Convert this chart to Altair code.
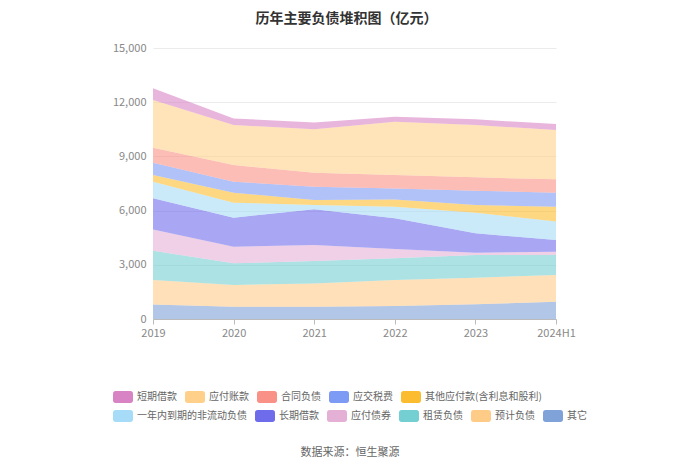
import altair as alt
import pandas as pd

years = ["2019", "2020", "2021", "2022", "2023", "2024H1"]
series = ["短期借款", "应付账款", "合同负债", "应交税费", "其他应付款(含利息和股利)",
          "一年内到期的非流动负债", "长期借款", "应付债券", "租赁负债", "预计负债", "其它"]
colors = ["#d883c4", "#ffd08a", "#fa9186", "#7d9af5", "#fbbd2f",
          "#a6dcf7", "#6f6cec", "#e4b0d6", "#74cfd2", "#ffcc88", "#7fa2d8"]

# values in 亿元, one list per series
short_loans = [650, 360, 370, 280, 310, 330]
accounts_payable = [2640, 2220, 2400, 2950, 2900, 2730]
contract_liab = [830, 920, 780, 740, 740, 740]
taxes_payable = [680, 610, 730, 610, 790, 770]
other_payables = [370, 550, 280, 400, 430, 830]
current_noncurrent = [920, 830, 240, 650, 1140, 1020]
long_loans = [1720, 1610, 1970, 1700, 1070, 650]
bonds_payable = [1180, 920, 890, 510, 130, 180]
lease_liab = [1620, 1200, 1240, 1200, 1250, 1110]
provisions = [1360, 1200, 1290, 1440, 1480, 1470]
others = [800, 680, 680, 720, 810, 960]

values = [short_loans, accounts_payable, contract_liab, taxes_payable, other_payables,
          current_noncurrent, long_loans, bonds_payable, lease_liab, provisions, others]

# build stacked table (bottom series = last in list)
rows = []
for yi, yr in enumerate(years):
    base = 0
    for si in range(len(series) - 1, -1, -1):
        v = values[si][yi]
        rows.append({"year": yr, "series": series[si], "value": v,
                     "base": base, "top": base + v, "order": si})
        base += v
df = pd.DataFrame(rows)

FONT = "Noto Sans CJK SC"
rounded = ("M-0.75,-0.6 H0.75 A0.25,0.25 0 0 1 1,-0.35 V0.35 A0.25,0.25 0 0 1 0.75,0.6 "
           "H-0.75 A0.25,0.25 0 0 1 -1,0.35 V-0.35 A0.25,0.25 0 0 1 -0.75,-0.6 Z")

x_enc = alt.X("year:O", sort=years, scale=alt.Scale(type="point", padding=0),
              axis=alt.Axis(title=None, labelAngle=0, labelColor="#888", labelFontSize=11,
                            labelFont=FONT, domainColor="#bbb", tickColor="#bbb",
                            tickSize=5, labelPadding=3, grid=False))
y_enc = alt.Y("base:Q", scale=alt.Scale(domain=[0, 15000]),
              axis=alt.Axis(title=None, values=[0, 3000, 6000, 9000, 12000, 15000],
                            labelExpr="format(datum.value, ',')",
                            labelColor="#888", labelFontSize=11, labelFont=FONT,
                            domain=False, ticks=False, gridColor="#ebebeb", labelPadding=7))


def layer(idx, leg_y):
    names = [series[i] for i in idx]
    cols = [colors[i] for i in idx]
    return alt.Chart(df).transform_filter(
        alt.FieldOneOfPredicate(field="series", oneOf=names)
    ).mark_area(fillOpacity=0.6, interpolate="linear").encode(
        x=x_enc,
        y=y_enc,
        y2="top:Q",
        color=alt.Color("series:N", scale=alt.Scale(domain=names, range=cols),
                        legend=alt.Legend(title=None, orient="none", direction="horizontal",
                                          legendX=-40, legendY=leg_y, symbolType=rounded,
                                          symbolSize=400, symbolOpacity=1, symbolStrokeWidth=0,
                                          labelFont=FONT, labelFontSize=10, labelColor="#666",
                                          labelOffset=4, columnPadding=8, padding=0)),
        detail="series:N",
    )


top_layer = layer([0, 1, 2, 3, 4], 339)
bot_layer = layer([5, 6, 7, 8, 9, 10], 358)

source = alt.Chart(pd.DataFrame({"t": ["数据来源：恒生聚源"]})).mark_text(
    font=FONT, fontSize=11, color="#666", align="center", baseline="middle"
).encode(x=alt.value(197), y=alt.value(405), text="t:N")

chart = alt.layer(bot_layer, top_layer, source).resolve_scale(color="independent").properties(
    width=403, height=271,
    padding={"left": 145, "top": 40, "right": 130, "bottom": 142},
    autosize=alt.AutoSizeParams(type="none"),
    title=alt.TitleParams("历年主要负债堆积图（亿元）", font=FONT, fontSize=14, fontWeight="bold",
                          color="#333", anchor="middle", dx=-8, offset=16),
).configure_view(stroke=None)

chart.save("out.html", embed_options={"renderer": "svg", "actions": False})
